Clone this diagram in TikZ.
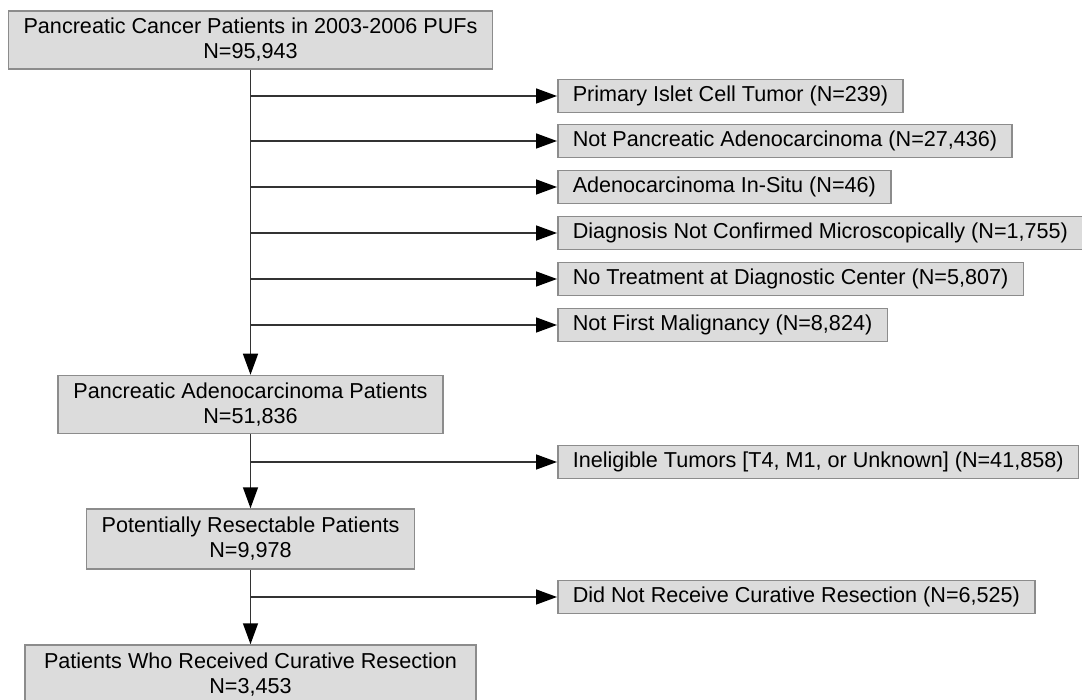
\documentclass[tikz,border=0pt]{standalone}
\usepackage{fontspec}
\setmainfont{Liberation Sans}
\usetikzlibrary{arrows.meta}
\definecolor{boxgray}{HTML}{DCDCDC}
\definecolor{edgegray}{HTML}{8C8C8C}
\begin{document}
\begin{tikzpicture}[x=0.5pt,y=-0.5pt,
    box/.style={draw=edgegray,fill=boxgray,line width=0.75pt,inner xsep=7.5pt,
      align=center,font=\fontsize{10.8}{12.5}\selectfont},
    mainbox/.style={box,minimum height=29pt},
    sidebox/.style={box,anchor=west,minimum height=16.5pt,inner ysep=0pt},
    flow/.style={line width=0.75pt,black!80,
      -{Triangle[length=10.5pt,width=7.5pt,color=black]}}]
    \useasboundingbox (0,0) rectangle (1082,700);
    \node[mainbox,minimum width=241.5pt] (pool) at (250.5,40)
      {Pancreatic Cancer Patients in 2003-2006 PUFs\\N=95,943};
    \node[sidebox] (islet) at (557,96) {Primary Islet Cell Tumor (N=239)};
    \node[sidebox] (notadeno) at (557,141) {Not Pancreatic Adenocarcinoma (N=27,436)};
    \node[sidebox] (insitu) at (557,187) {Adenocarcinoma In-Situ (N=46)};
    \node[sidebox] (nomicro) at (557,233) {Diagnosis Not Confirmed Microscopically (N=1,755)};
    \node[sidebox] (notreat) at (557,279) {No Treatment at Diagnostic Center (N=5,807)};
    \node[sidebox] (notfirst) at (557,325) {Not First Malignancy (N=8,824)};
    \node[mainbox,minimum width=192.5pt] (adeno) at (250.5,404.5)
      {Pancreatic Adenocarcinoma Patients\\N=51,836};
    \node[sidebox] (inelig) at (557,462) {Ineligible Tumors [T4, M1, or Unknown] (N=41,858)};
    \node[mainbox,minimum width=163pt,minimum height=30pt] (resect) at (250.5,539)
      {Potentially Resectable Patients\\N=9,978};
    \node[sidebox] (noresect) at (557,597) {Did Not Receive Curative Resection (N=6,525)};
    \node[mainbox,minimum width=225.5pt,minimum height=30pt] (cured) at (250.5,675)
      {Patients Who Received Curative Resection\\N=3,453};
    \draw[flow] (pool) -- (adeno);
    \foreach \n in {islet,notadeno,insitu,nomicro,notreat,notfirst}
      \draw[flow] (pool.south |- \n.west) -- (\n);
    \draw[flow] (adeno) -- (resect);
    \draw[flow] (adeno.south |- inelig.west) -- (inelig);
    \draw[flow] (resect) -- (cured);
    \draw[flow] (resect.south |- noresect.west) -- (noresect);
\end{tikzpicture}
\end{document}
